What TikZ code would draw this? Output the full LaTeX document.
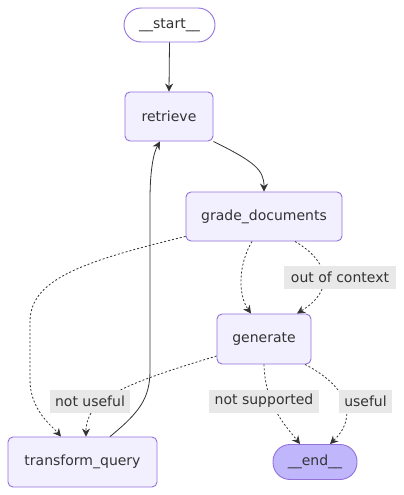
\documentclass[tikz,border=0pt]{standalone}
\usepackage{fontspec}
\setmainfont{DejaVu Sans}
\usetikzlibrary{arrows.meta,calc}
\definecolor{nodefill}{HTML}{F2F0FF}
\definecolor{nodedraw}{HTML}{9370DB}
\definecolor{endfill}{HTML}{BFB6FC}
\definecolor{ink}{HTML}{333333}
\definecolor{lblbg}{HTML}{E8E8E8}
\begin{document}
\begin{tikzpicture}[x=1pt,y=-1pt,
  txt/.style={text=ink, font=\fontsize{14}{16}\selectfont, inner sep=0pt},
  box/.style={txt, draw=nodedraw, fill=nodefill, line width=0.9pt, rounded corners=5pt},
  pill/.style={txt, draw=nodedraw, line width=0.9pt, rounded corners=17pt},
  lbl/.style={txt, fill=lblbg, minimum height=23pt},
  edge/.style={draw=ink, line width=0.8pt, -{Stealth[length=8pt,width=8pt]}},
  dedge/.style={edge, dash pattern=on 2pt off 2pt}]
\useasboundingbox[fill=white] (0,0) rectangle (404,495);
% nodes
\node[pill, fill=white, minimum width=91pt, minimum height=34pt] (start) at (169.5,25) {\_\_start\_\_};
\node[box, minimum width=88pt, minimum height=49pt] (retrieve) at (169,116.5) {retrieve};
\node[box, minimum width=156pt, minimum height=49pt] (grade) at (264,216.5) {grade\_documents};
\node[box, minimum width=94pt, minimum height=50pt] (gen) at (264,339) {generate};
\node[box, minimum width=149pt, minimum height=50pt] (tq) at (82.5,462) {transform\_query};
\node[pill, fill=endfill, minimum width=84pt, minimum height=35pt] (end) at (315,462) {\_\_end\_\_};
% edges
\draw[edge] (start.south) -- (retrieve.north);
\draw[edge] (retrieve.south east) .. controls (255,162) and (264,170) .. (grade.north);
\draw[edge] ($(tq.north)+(27.5,0)$) .. controls (140,412) and (150,398) .. (150,370)
  -- (150,200) .. controls (150,168) and (154,152) .. ($(retrieve.south)+(-9,0)$);
\draw[dedge] ($(grade.south west)+(0,-5)$) .. controls (80,262) and (30,280) .. (30,322)
  -- (30,380) .. controls (30,410) and (52,426) .. ($(tq.north)+(-21.5,0)$);
\draw[dedge] ($(grade.south)+(-12,0)$) .. controls (238,265) and (238,295) .. ($(gen.north)+(-13,0)$);
\draw[dedge] ($(grade.south)+(31,0)$) .. controls (330,262) and (335,290) .. ($(gen.north)+(33,0)$);
\draw[dedge] ($(gen.west)+(0,17)$) .. controls (120,385) and (86,400) .. ($(tq.north)+(3.5,0)$);
\draw[dedge] (gen.south) .. controls (265,405) and (285,425) .. ($(end.north)+(-15,0)$);
\draw[dedge] ($(gen.south)+(41,0)$) .. controls (345,385) and (360,415) .. ($(end.north)+(15,0)$);
% labels
\node[lbl, minimum width=112pt] (l1) at (340,277.5) {out of context};
\node[lbl, minimum width=80pt] (l2) at (90,401) {not useful};
\node[lbl, minimum width=110pt] (l3) at (264,401) {not supported};
\node[lbl, minimum width=53pt] (l4) at (365.5,401) {useful};
\end{tikzpicture}
\end{document}
